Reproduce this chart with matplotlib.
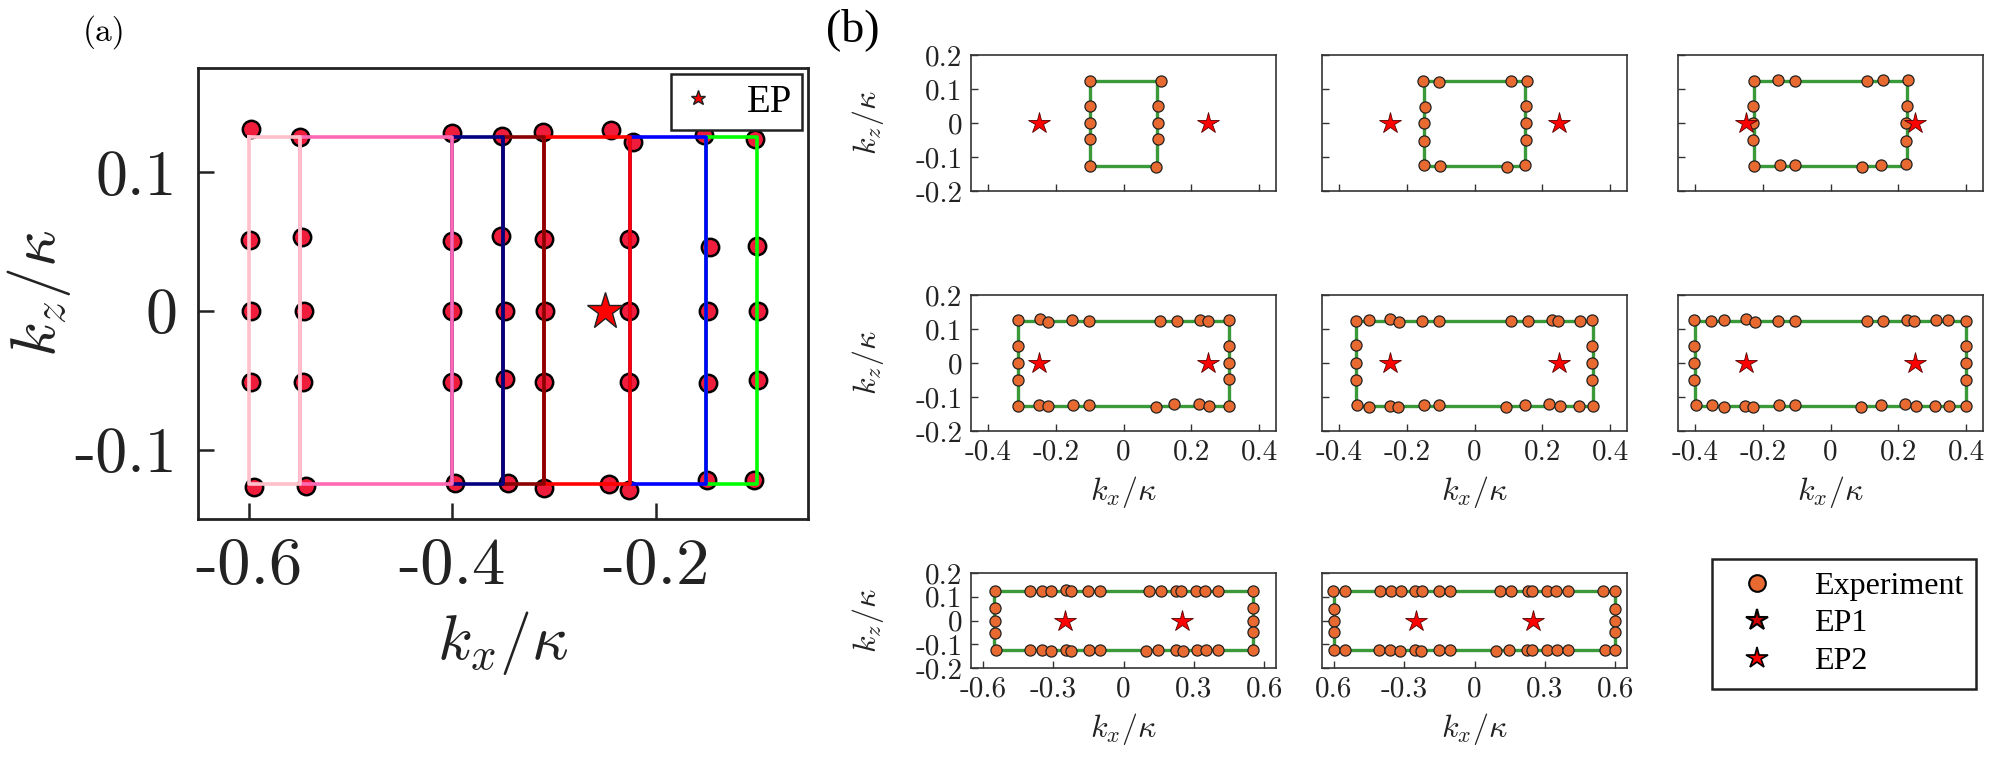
import matplotlib
matplotlib.use('Agg')
import matplotlib.pyplot as plt
from matplotlib.lines import Line2D

plt.rcParams['mathtext.fontset'] = 'cm'
plt.rcParams['axes.unicode_minus'] = False

# ---------------- panel (a) data ----------------
# measured points (red dots)
a_x = [-0.598, -0.599, -0.598, -0.598, -0.595,
       -0.550, -0.548, -0.546, -0.547, -0.544,
       -0.400, -0.400, -0.400, -0.400, -0.397,
       -0.351, -0.352, -0.348, -0.348, -0.345,
       -0.311, -0.310, -0.309, -0.310, -0.310,
       -0.244, -0.246,
       -0.222, -0.226, -0.226, -0.226, -0.226,
       -0.152, -0.146, -0.148, -0.148, -0.149,
       -0.102, -0.100, -0.099, -0.099, -0.103]
a_y = [0.131, 0.051, 0.000, -0.051, -0.127,
       0.125, 0.053, 0.000, -0.051, -0.126,
       0.128, 0.050, 0.000, -0.051, -0.124,
       0.126, 0.054, 0.000, -0.049, -0.124,
       0.129, 0.052, 0.000, -0.051, -0.128,
       0.130, -0.125,
       0.122, 0.052, 0.000, -0.051, -0.129,
       0.127, 0.046, 0.000, -0.052, -0.122,
       0.124, 0.047, 0.000, -0.050, -0.122]
# contour segments: left / right kx edge of each coloured rectangle
seg_left = [-0.60, -0.55, -0.40, -0.35, -0.31, -0.225, -0.15]
seg_right = [-0.55, -0.40, -0.35, -0.31, -0.225, -0.15, -0.10]
seg_colors = ['#ffc0cb', '#ff69b4', '#000080', '#8b0000', '#ff0000', '#0000ff', '#00ff00']
kz_half = 0.125
ep_a = (-0.25, 0.0)

# ---------------- panel (b) data ----------------
b_half = [0.10, 0.15, 0.225, 0.31, 0.35, 0.40, 0.55, 0.60]
ep1 = (-0.25, 0.0)
ep2 = (0.25, 0.0)

b1_x = [-0.100, -0.100, -0.100, -0.100, -0.100, 0.110, 0.101, 0.101, 0.101, 0.095]
b1_y = [0.125, 0.049, 0.000, -0.047, -0.125, 0.125, 0.051, 0.000, -0.048, -0.129]

b2_x = [-0.151, -0.105, 0.109, 0.155, -0.146, -0.149, -0.149,
        -0.149, -0.103, 0.095, 0.149, 0.153, 0.153, 0.151]
b2_y = [0.125, 0.122, 0.125, 0.125, 0.046, 0.000, -0.052,
        -0.123, -0.125, -0.130, -0.123, 0.049, 0.000, -0.049]

b3_x = [-0.227, -0.154, -0.106, 0.107, 0.156, 0.228, -0.228, -0.228, -0.228,
        -0.227, -0.150, -0.105, 0.093, 0.148, 0.223, 0.225, 0.223, 0.223]
b3_y = [0.124, 0.127, 0.123, 0.124, 0.126, 0.127, 0.051, 0.000, -0.051,
        -0.127, -0.123, -0.123, -0.130, -0.123, -0.120, 0.051, 0.000, -0.052]

b4_x = [-0.311, -0.245, -0.224, -0.153, -0.103, 0.108, 0.157, 0.227, 0.249, 0.312,
        -0.311, -0.311, -0.311,
        -0.311, -0.248, -0.224, -0.149, -0.103, 0.095, 0.150, 0.224, 0.253, 0.312,
        0.312, 0.312, 0.312]
b4_y = [0.126, 0.128, 0.121, 0.126, 0.124, 0.124, 0.125, 0.126, 0.123, 0.126,
        0.049, 0.000, -0.049,
        -0.127, -0.124, -0.127, -0.124, -0.123, -0.129, -0.122, -0.120, -0.125, -0.125,
        0.050, 0.000, -0.048]

b5_x = [-0.351, -0.312, -0.248, -0.223, -0.154, -0.105, 0.107, 0.157, 0.228, 0.247, 0.312, 0.347,
        -0.351, -0.349, -0.349,
        -0.346, -0.312, -0.249, -0.225, -0.150, -0.105, 0.094, 0.148, 0.221, 0.252, 0.308, 0.351,
        0.348, 0.348, 0.348]
b5_y = [0.124, 0.126, 0.128, 0.121, 0.125, 0.123, 0.124, 0.124, 0.126, 0.123, 0.124, 0.126,
        0.052, 0.000, -0.049,
        -0.123, -0.128, -0.125, -0.128, -0.124, -0.124, -0.129, -0.123, -0.120, -0.127, -0.125, -0.125,
        0.049, 0.000, -0.049]

b6_x = [-0.402, -0.354, -0.315, -0.248, -0.224, -0.154, -0.106, 0.107, 0.156, 0.225, 0.245, 0.310, 0.346, 0.400,
        -0.402, -0.402, -0.402,
        -0.398, -0.349, -0.314, -0.251, -0.228, -0.152, -0.106, 0.091, 0.148, 0.221, 0.251, 0.308, 0.349, 0.400,
        0.400, 0.400, 0.400]
b6_y = [0.126, 0.124, 0.126, 0.128, 0.121, 0.125, 0.123, 0.124, 0.124, 0.126, 0.123, 0.126, 0.126, 0.124,
        0.049, 0.000, -0.051,
        -0.123, -0.123, -0.128, -0.125, -0.128, -0.124, -0.124, -0.130, -0.123, -0.120, -0.127, -0.125, -0.125, -0.125,
        0.049, 0.000, -0.051]

b7_x = [-0.549, -0.399, -0.346, -0.311, -0.245, -0.222, -0.150, -0.099,
        0.110, 0.158, 0.224, 0.247, 0.310, 0.349, 0.402, 0.551,
        -0.549, -0.549, -0.549,
        -0.543, -0.397, -0.346, -0.308, -0.245, -0.222, -0.146, -0.099,
        0.095, 0.148, 0.224, 0.252, 0.313, 0.351, 0.402, 0.551,
        0.551, 0.551, 0.551]
b7_y = [0.126, 0.126, 0.125, 0.126, 0.127, 0.123, 0.126, 0.125,
        0.126, 0.126, 0.126, 0.124, 0.126, 0.126, 0.125, 0.126,
        0.054, 0.000, -0.053,
        -0.126, -0.125, -0.126, -0.128, -0.126, -0.128, -0.125, -0.125,
        -0.129, -0.126, -0.124, -0.127, -0.125, -0.125, -0.125, -0.125,
        0.054, 0.000, -0.050]

b8_x = [-0.602, -0.550, -0.404, -0.355, -0.315, -0.252, -0.223, -0.153, -0.105,
        0.107, 0.155, 0.227, 0.243, 0.311, 0.349, 0.398, 0.548, 0.600,
        -0.600, -0.600, -0.600,
        -0.600, -0.553, -0.405, -0.360, -0.318, -0.255, -0.227, -0.153, -0.105,
        0.093, 0.148, 0.225, 0.245, 0.310, 0.351, 0.398, 0.555, 0.600,
        0.598, 0.600, 0.598]
b8_y = [0.126, 0.126, 0.126, 0.125, 0.126, 0.126, 0.123, 0.125, 0.124,
        0.126, 0.126, 0.125, 0.126, 0.126, 0.126, 0.126, 0.125, 0.124,
        0.050, 0.000, -0.050,
        -0.125, -0.126, -0.124, -0.125, -0.127, -0.125, -0.128, -0.125, -0.125,
        -0.128, -0.125, -0.124, -0.126, -0.125, -0.125, -0.125, -0.126, -0.125,
        0.050, 0.000, -0.050]

b_x = [b1_x, b2_x, b3_x, b4_x, b5_x, b6_x, b7_x, b8_x]
b_y = [b1_y, b2_y, b3_y, b4_y, b5_y, b6_y, b7_y, b8_y]

xtick_rows12 = [-0.4, -0.2, 0, 0.2, 0.4]
xlab_rows12 = ['-0.4', '-0.2', '0', '0.2', '0.4']
xtick_row3 = [-0.6, -0.3, 0, 0.3, 0.6]
xlab_row3 = [['-0.6', '-0.3', '0', '0.3', '0.6'], ['0.6', '-0.3', '0', '0.3', '0.6']]
ytick_b = [-0.2, -0.1, 0, 0.1, 0.2]
ylab_b = ['-0.2', '-0.1', '0', '0.1', '0.2']

W, H = 1993, 757
fig = plt.figure(figsize=(W / 100, H / 100), dpi=100)


def px_axes(x0, y0, x1, y1):
    return fig.add_axes([x0 / W, 1 - y1 / H, (x1 - x0) / W, (y1 - y0) / H])


tick_font = 'cmr10'
text_font = 'Liberation Serif'

# ---------------- panel (a) ----------------
ax = px_axes(198, 68, 808, 519)
ax.plot(a_x, a_y, 'o', ms=12.5, mfc='#ef1c3c', mec='black', mew=1.8, zorder=2)
for i in reversed(range(len(seg_left))):
    x0, x1 = seg_left[i], seg_right[i]
    ax.plot([x0, x1, x1, x0, x0], [kz_half, kz_half, -kz_half, -kz_half, kz_half],
            color=seg_colors[i], lw=2.6, zorder=3)
ax.plot([ep_a[0]], [ep_a[1]], '*', ms=28, mfc='#ff0000', mec='#222222', mew=1.0,
        zorder=4, label='EP')
ax.set_xlim(-0.65, -0.05)
ax.set_ylim(-0.15, 0.175)
ax.set_xticks([-0.6, -0.4, -0.2])
ax.set_xticklabels(['-0.6', '-0.4', '-0.2'], fontfamily=tick_font, fontsize=48,
                   color='#222222')
ax.set_yticks([-0.1, 0, 0.1])
ax.set_yticklabels(['-0.1', '0', '0.1'], fontfamily=tick_font, fontsize=46,
                   color='#222222')
ax.tick_params(direction='in', length=11.5, width=1.8, color='#222222')
ax.tick_params(axis='x', pad=13)
ax.tick_params(axis='y', pad=15)
for s in ax.spines.values():
    s.set_linewidth(2.0)
    s.set_color('#222222')
ax.set_xlabel(r'$k_x/\kappa$', fontsize=46, color='#222222')
ax.set_ylabel(r'$k_z/\kappa$', fontsize=46, color='#222222')
ax.xaxis.set_label_coords(0.5, -0.2)
ax.yaxis.set_label_coords(-0.205, 0.5)
leg = ax.legend(loc='upper right', bbox_to_anchor=(0.99, 0.987), borderaxespad=0,
                markerscale=0.4, fancybox=False, edgecolor='#222222', framealpha=1,
                prop={'family': text_font, 'size': 28}, handlelength=0.9,
                handletextpad=0.8, borderpad=0.25)
leg.get_frame().set_linewidth(1.8)

fig.text(83 / W, 1 - 32 / H, '(a)', fontfamily=tick_font, fontsize=24,
         va='center', ha='left')
fig.text(826 / W, 1 - 30 / H, '(b)', fontfamily=text_font, fontsize=33,
         va='center', ha='left')

# ---------------- panel (b) ----------------
col_x = [971, 1322, 1678]
col_w = 305
row_y = [(55, 191), (295, 431), (573, 668)]
green = '#3a9a3a'
orange = '#e86a30'

for k in range(8):
    r, c = divmod(k, 3)
    y0, y1 = row_y[r]
    bx = px_axes(col_x[c], y0, col_x[c] + col_w, y1)
    a = b_half[k]
    bx.plot([-a, a, a, -a, -a], [kz_half, kz_half, -kz_half, -kz_half, kz_half],
            color=green, lw=2.4, zorder=2)
    bx.plot(b_x[k], b_y[k], 'o', ms=8, mfc=orange, mec='#222222', mew=0.9,
            zorder=3, label='Experiment')
    bx.plot([ep1[0]], [ep1[1]], '*', ms=16, mfc='#ff0000', mec='#550000',
            mew=0.6, zorder=4, label='EP1')
    bx.plot([ep2[0]], [ep2[1]], '*', ms=16, mfc='#ff0000', mec='#550000',
            mew=0.6, zorder=4, label='EP2')
    bx.set_ylim(-0.2, 0.2)
    if r < 2:
        bx.set_xlim(-0.45, 0.45)
        bx.set_xticks(xtick_rows12)
        labels = xlab_rows12 if r == 1 else []
    else:
        bx.set_xlim(-0.65, 0.65)
        bx.set_xticks(xtick_row3)
        labels = xlab_row3[c]
    if labels:
        bx.set_xticklabels(labels, fontfamily=tick_font, fontsize=21, color='#222222')
        bx.set_xlabel(r'$k_x/\kappa$', fontsize=23, color='#222222', labelpad=6)
    else:
        bx.set_xticklabels([])
    bx.set_yticks(ytick_b)
    if c == 0:
        bx.set_yticklabels(ylab_b, fontfamily=tick_font, fontsize=21, color='#222222')
        bx.set_ylabel(r'$k_z/\kappa$', fontsize=23, color='#222222')
        bx.yaxis.set_label_coords(-0.28, 0.5)
    else:
        bx.set_yticklabels([])
    bx.tick_params(direction='in', length=5, width=1.0, color='#333333', pad=6)
    for s in bx.spines.values():
        s.set_linewidth(1.2)
        s.set_color('#333333')

handles = [
    Line2D([], [], ls='none', marker='o', ms=12, mfc=orange, mec='black', mew=1.5),
    Line2D([], [], ls='none', marker='*', ms=16, mfc='#cc0000', mec='black', mew=1.5),
    Line2D([], [], ls='none', marker='*', ms=16, mfc='#ff0000', mec='black', mew=1.2),
]
leg_b = fig.legend(handles, ['Experiment', 'EP1', 'EP2'], loc='upper left',
                   bbox_to_anchor=(1712 / W, 1 - 559 / H), borderaxespad=0,
                   fancybox=False, edgecolor='#222222', framealpha=1,
                   prop={'family': text_font, 'size': 23}, handletextpad=0.8,
                   labelspacing=0.25, borderpad=0.4)
leg_b.get_frame().set_linewidth(1.8)

fig.savefig('out.png', dpi=100)
